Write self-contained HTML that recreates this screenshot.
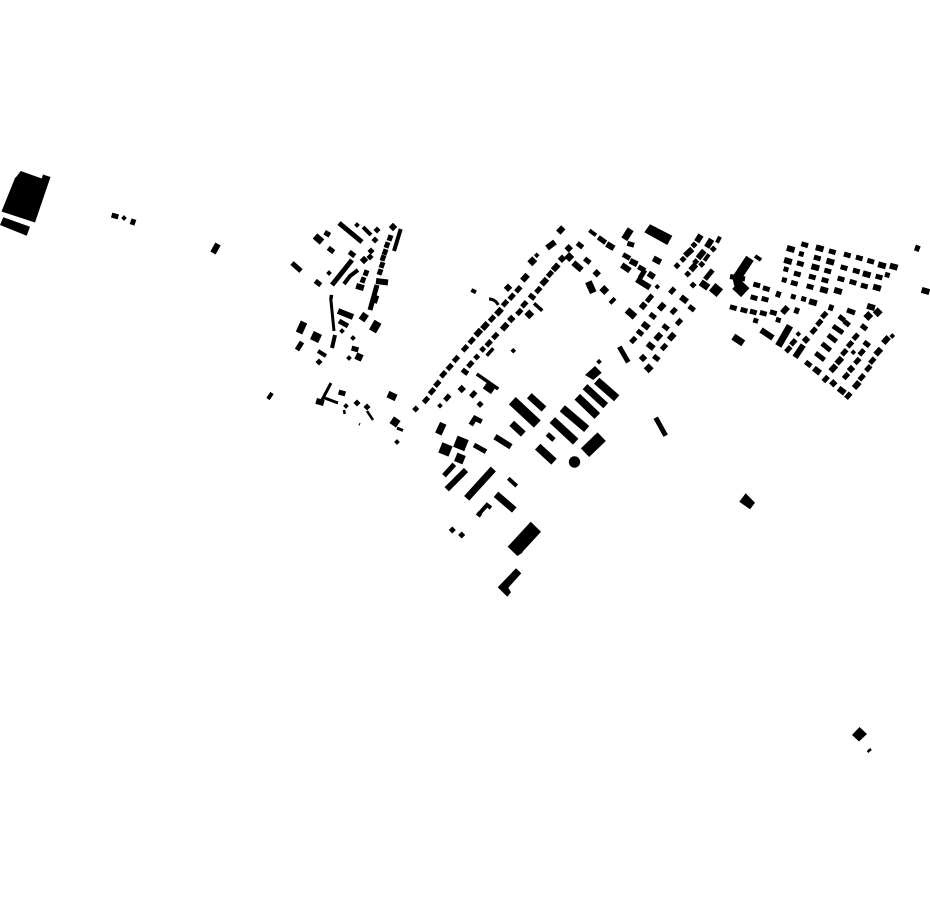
<!DOCTYPE html>
<html><head><meta charset="utf-8"><style>html,body{margin:0;padding:0;background:#fff;width:930px;height:924px;overflow:hidden}svg{display:block}path.l{fill:none;stroke:#000}</style></head><body>
<svg xmlns="http://www.w3.org/2000/svg" width="930" height="924" viewBox="0 0 930 924">
<defs>
<rect id="g" x="-3.5" y="-2.5" width="7" height="5" transform="rotate(16)"/>
<rect id="G" x="-4" y="-3" width="8" height="6" transform="rotate(16)"/>
<rect id="h" x="-2.5" y="-2.5" width="5" height="5" transform="rotate(16)"/>
<rect id="a" x="-2" y="-2" width="4" height="4" transform="rotate(45)"/>
<rect id="b" x="-2.5" y="-2.5" width="5" height="5" transform="rotate(45)"/>
<rect id="c" x="-3" y="-3" width="6" height="6" transform="rotate(45)"/>
<rect id="e" x="-3.5" y="-3.5" width="7" height="7" transform="rotate(45)"/>
<rect id="u" x="-3.5" y="-2.5" width="7" height="5" transform="rotate(-48)"/>
<rect id="U" x="-4" y="-3" width="8" height="6" transform="rotate(-48)"/>
<rect id="d" x="-3.5" y="-2.5" width="7" height="5" transform="rotate(38)"/>
<rect id="D" x="-4" y="-3" width="8" height="6" transform="rotate(38)"/>
<rect id="t" x="-3" y="-2.5" width="6" height="5" transform="rotate(-70)"/>
</defs>
<g fill="#000">
<polygon points="20.7,171 41.7,178.5 43,174.5 50.5,177 35,222.5 1.5,211.5 15,178 17,176"/>
<polygon points="3.3,217.3 30,226.7 26.7,235.7 0,225"/>
<polygon points="650,224.3 672.3,235.7 667.3,245 644.3,232.3"/>
<polygon points="530.7,521.7 541,531.7 523.3,551 522,553 517.3,556 507.7,546.7"/>
<polygon points="516,568.3 521.3,573.3 508.3,587.7 511,592.3 507.3,596.7 497.7,587.3"/>
<polygon points="585,375 595,366 601.7,372.7 593.3,380"/>
<polygon points="745.7,493.3 755,502.7 750,509.3 739.3,501.7"/>
<polygon points="859.5,727 867,734 859,741.5 852,735"/>
<circle cx="574.5" cy="462" r="5.7"/>
<rect x="440" y="444" width="11" height="11" transform="rotate(22 445.7 449.3)"/>
<rect x="455" y="437.5" width="12" height="12" transform="rotate(22 461 443.3)"/>
<rect x="455.5" y="454" width="9" height="9" transform="rotate(22 460 458.3)"/>
<rect x="311.5" y="332.5" width="9" height="9" transform="rotate(25 316 337)"/>
<rect x="484.5" y="383" width="10" height="9" transform="rotate(35 489.3 387.5)"/>
<rect x="355.5" y="353.5" width="7" height="7" transform="rotate(25 359 357)"/>
<rect x="387.5" y="392.5" width="9" height="7" transform="rotate(25 392 396)"/>
<rect x="391" y="418" width="8" height="8" transform="rotate(35 395 422)"/>
<rect x="711" y="285" width="10" height="10" transform="rotate(40 716 290)"/>
<use href="#g" x="115" y="216"/><use href="#a" x="124" y="218"/><use href="#t" x="133" y="222"/>
<use href="#a" x="357" y="225"/><use href="#b" x="377" y="230"/><use href="#b" x="375" y="240"/>
<use href="#d" x="331" y="250"/><use href="#d" x="352" y="254"/><use href="#a" x="329" y="273"/><use href="#d" x="318" y="283"/>
<use href="#c" x="364" y="260"/><use href="#b" x="370" y="257"/><use href="#b" x="371" y="251"/><use href="#c" x="393" y="227"/>
<use href="#t" x="390" y="238"/><use href="#t" x="387" y="245"/><use href="#t" x="385" y="252"/><use href="#t" x="383" y="258"/><use href="#t" x="382" y="265"/><use href="#t" x="380" y="272"/>
<use href="#t" x="366" y="273"/><use href="#t" x="363" y="280"/><use href="#G" x="360" y="287"/>
<use href="#a" x="342" y="331"/><use href="#a" x="353" y="338"/><use href="#g" x="355" y="349"/><use href="#a" x="349" y="358"/><use href="#b" x="319" y="362"/>
<use href="#G" x="320" y="402"/><use href="#g" x="342" y="393"/><use href="#a" x="346" y="406"/><use href="#b" x="357" y="403"/><use href="#b" x="367" y="407"/>
<use href="#a" x="397" y="442"/>
<use href="#b" x="415.7" y="409"/><use href="#u" x="426" y="400"/><use href="#u" x="432" y="391.3"/><use href="#u" x="437.3" y="383.7"/><use href="#u" x="443.3" y="374.3"/><use href="#u" x="449.7" y="367"/><use href="#u" x="456" y="359"/><use href="#u" x="465" y="348.3"/><use href="#u" x="471.7" y="340.7"/><use href="#U" x="478.3" y="332.7"/><use href="#U" x="485" y="326"/><use href="#u" x="492" y="318.7"/><use href="#U" x="499" y="311.7"/><use href="#u" x="505" y="303.3"/><use href="#u" x="511.7" y="296.7"/><use href="#u" x="518.3" y="289.3"/><use href="#U" x="525" y="277.7"/><use href="#e" x="532.3" y="261.3"/><use href="#a" x="536.7" y="255.3"/><use href="#c" x="508" y="287.7"/>
<use href="#a" x="440" y="405.7"/><use href="#u" x="447.3" y="397.7"/><use href="#c" x="461.7" y="389"/><use href="#u" x="473.3" y="394.3"/><use href="#a" x="480.7" y="404.3"/><use href="#d" x="465" y="371.7"/><use href="#u" x="470.3" y="364.3"/><use href="#b" x="476.7" y="357"/><use href="#b" x="482.7" y="349.3"/><use href="#u" x="488.7" y="343.3"/><use href="#u" x="495.3" y="336"/><use href="#U" x="504.7" y="326.7"/><use href="#c" x="511.3" y="319"/><use href="#u" x="519.3" y="312"/><use href="#u" x="524.3" y="304.3"/><use href="#e" x="529.3" y="314.3"/><use href="#d" x="532" y="296.7"/><use href="#u" x="538.3" y="290"/><use href="#U" x="544.3" y="281.7"/><use href="#u" x="550" y="274"/><use href="#U" x="555.7" y="267.3"/><use href="#c" x="562" y="258.7"/><use href="#e" x="569.3" y="257"/><use href="#c" x="568.7" y="248.3"/><use href="#d" x="580" y="245.3"/><use href="#d" x="587.3" y="260.7"/><use href="#c" x="596.7" y="273.3"/><use href="#e" x="604.3" y="290"/><use href="#a" x="513.3" y="350.7"/><use href="#a" x="599" y="361.7"/><use href="#b" x="480" y="404.3"/>
<use href="#g" x="630.7" y="244.3"/><use href="#a" x="657.3" y="286.7"/><use href="#u" x="672.3" y="290.7"/><use href="#U" x="661.7" y="306.7"/><use href="#d" x="652.7" y="316"/><use href="#u" x="673.7" y="311"/><use href="#D" x="645.7" y="325.7"/><use href="#d" x="665.7" y="327.3"/><use href="#u" x="679" y="322"/><use href="#d" x="640" y="332.7"/><use href="#U" x="658.3" y="336.7"/><use href="#U" x="671.7" y="336.7"/><use href="#u" x="633.3" y="340"/><use href="#D" x="650.7" y="346"/><use href="#u" x="664" y="347"/><use href="#c" x="643" y="358"/><use href="#d" x="656.3" y="358"/><use href="#e" x="648.7" y="368.3"/><use href="#D" x="684" y="299.3"/><use href="#d" x="691.7" y="308.3"/>
<use href="#b" x="677" y="265.7"/><use href="#b" x="683" y="259.3"/><use href="#b" x="694" y="245"/><use href="#b" x="687.7" y="274"/><use href="#U" x="693.3" y="267.3"/><use href="#b" x="695.7" y="261.7"/><use href="#b" x="701.7" y="264.3"/><use href="#b" x="713.3" y="249"/><use href="#b" x="693" y="285"/>
<use href="#G" x="790.7" y="249"/><use href="#g" x="804.7" y="244.7"/><use href="#h" x="801.3" y="254"/><use href="#G" x="819.7" y="248.3"/><use href="#g" x="832.3" y="251.7"/><use href="#g" x="847.3" y="255"/><use href="#g" x="859.3" y="258"/><use href="#g" x="870.7" y="261.3"/><use href="#G" x="882" y="265.3"/><use href="#G" x="893.7" y="266.7"/>
<use href="#G" x="788" y="261"/><use href="#g" x="800.3" y="263.7"/><use href="#g" x="817.3" y="258"/><use href="#G" x="830.3" y="261.7"/><use href="#g" x="844" y="267.7"/><use href="#g" x="856.3" y="271"/><use href="#G" x="866.7" y="274.3"/><use href="#g" x="879" y="277"/><use href="#h" x="887.3" y="275"/>
<use href="#h" x="786" y="269.3"/><use href="#g" x="797.3" y="274"/><use href="#G" x="815.3" y="267.3"/><use href="#g" x="827.7" y="271"/><use href="#g" x="841" y="279"/><use href="#g" x="853" y="282.3"/><use href="#g" x="864.3" y="286"/><use href="#G" x="877" y="287.7"/>
<use href="#h" x="784.3" y="280"/><use href="#g" x="794.3" y="283.3"/><use href="#g" x="812.3" y="277"/><use href="#g" x="825" y="280.3"/><use href="#g" x="810" y="286.7"/><use href="#G" x="824" y="290"/><use href="#G" x="838" y="291"/>
<use href="#g" x="756.7" y="285"/><use href="#g" x="766.3" y="288.7"/><use href="#t" x="778.3" y="294.3"/><use href="#h" x="793.3" y="296.7"/><use href="#h" x="803.7" y="299"/><use href="#G" x="813" y="302.3"/>
<use href="#g" x="754" y="297.7"/><use href="#g" x="765" y="299.3"/><use href="#g" x="733.3" y="307.7"/><use href="#g" x="744" y="310.3"/><use href="#g" x="753.3" y="312"/><use href="#g" x="763.3" y="313.3"/><use href="#g" x="773.3" y="312.7"/><use href="#U" x="785" y="310"/><use href="#t" x="796.7" y="310.7"/><use href="#h" x="755.7" y="320.7"/><use href="#h" x="778.3" y="320"/>
<use href="#a" x="798.3" y="334"/><use href="#u" x="793.3" y="342.3"/><use href="#u" x="788.3" y="349.3"/><use href="#c" x="806" y="339.7"/>
<use href="#t" x="831" y="307.7"/><use href="#u" x="824.3" y="315"/><use href="#u" x="819.3" y="322.7"/><use href="#u" x="813.7" y="330.7"/>
<use href="#d" x="841.7" y="318.3"/><use href="#d" x="846.7" y="323.3"/><use href="#d" x="808.3" y="364"/><use href="#D" x="817" y="370.7"/><use href="#u" x="825.7" y="379"/><use href="#c" x="833.3" y="383.3"/><use href="#D" x="841.7" y="390.7"/><use href="#u" x="848.3" y="395.7"/>
<use href="#d" x="864" y="327.3"/><use href="#u" x="855.7" y="336.7"/><use href="#u" x="850" y="344.3"/><use href="#u" x="844.3" y="352.3"/><use href="#U" x="839.3" y="360.7"/><use href="#U" x="833.3" y="368.3"/><use href="#d" x="866.7" y="344"/><use href="#u" x="861.7" y="352.3"/><use href="#a" x="853.3" y="352.3"/><use href="#u" x="857.3" y="361"/><use href="#U" x="878.3" y="351.7"/><use href="#u" x="872.3" y="360.7"/><use href="#u" x="868.3" y="368.3"/><use href="#u" x="861.7" y="377.3"/><use href="#U" x="856.7" y="385"/><use href="#c" x="851" y="369"/><use href="#u" x="846" y="376"/>
<use href="#G" x="871" y="307"/><use href="#e" x="877.7" y="312.3"/><use href="#e" x="868.3" y="316"/><use href="#U" x="886" y="340"/><use href="#a" x="892.3" y="336"/>
<use href="#t" x="917.3" y="248.3"/><use href="#G" x="925.5" y="291"/>
<use href="#b" x="452.3" y="530"/><use href="#b" x="461.7" y="535"/>
<rect x="360" y="314" width="7" height="8" transform="rotate(35 365 318)"/>
<rect x="371" y="321" width="8" height="11" transform="rotate(30 375 327)"/>
</g>
<g>
<path class="l" stroke-width="2.5" d="M867.5 752L871 749M344 410L344.700 414M367 411L373 420M359 424L360 424.500"/>
<path class="l" stroke-width="3" d="M330.700 298L334 331M331 383L322 400M322 397L338 403M489 299Q495 299 498.300 305M397 428L403 430.500"/>
<path class="l" stroke-width="3.500" d="M486.700 355.700L493.300 348.300M534 303.300L542.300 310.700M476.700 374L498.300 389"/>
<path class="l" stroke-width="4" d="M363 227L371 235M400.700 229L394 251M344 284L350 276L358 270M272 393L268 399M335 335L332 348M318 351L326 356M471.300 290L476 292.300M589.300 230.300L596 235.300M610 303.300L615 298.300M704.300 260.700L709 254.300M717 242.700L720 236.700M508.300 478.300L516.700 486M478 515L487 505L491 508M477 513L481 516M755 256L761 260M329.500 296.700L333 297"/>
<path class="l" stroke-width="5" d="M339 223L362 242M292 263L301 271M332 285L352 260M377 285L370 310M339 321L348 326M598.300 237.300L605.700 242.700M623 254.500L630 258.500M638.300 266.700L645 270.700M645 270L640 278M652.300 295L646.700 301.700M619.300 346.700L628.300 362.300M705 279.300L712.700 270M655.700 417.700L665.700 435.700M444 475.700L454.300 464.300M474 445L486 451.700M470.700 425L475 418.300L481.700 421.700M547.300 434L554 440M847 310L855 313M730 276.500L745 279M302 342L297 350M833 326L843 333M828 335L836.500 341.500M822 343.500L830.500 350.500M815.500 353L824.500 360"/>
<path class="l" stroke-width="6" d="M218 244L213 253M376 281L388 282.500M328.500 231.500L326 236M338 311L353 317M547 248L555 242M558.300 232.700L563.300 227.300M573.300 262.700L581.700 270M606.700 244L614 248.300M630 260.700L637.300 264.300M621.700 265L630 270.700M653.300 258.300L660.700 262.300M636.700 279.300L650 287.700M648.300 273.300L654.300 277.300M641 308.300L645.300 303.300M685 255.700L692.300 249M696.700 241.700L701 235M698 258.300L704.300 250.700M706.700 247.300L711.700 239.300M803.300 345L795 357.300M495 436.700L511 446.700M446.700 489.300L466 470M761 330L773 338"/>
<path class="l" stroke-width="7" d="M315 236L322 242M304 322L299 333M588.300 281.700L593.300 292.700M630.700 229.300L624.300 239.300M627 310L635 317M700.700 282.300L708.300 287.700M733.300 336.700L743.300 343.300M790 325.700L778.300 346M466.700 498.300L493.300 469M496 494.300L514.300 510M511.700 423.300L523.300 434M529.300 395.700L544 409M585 386.700L605.700 405.700M443.300 423.300L438.300 434"/>
<path class="l" stroke-width="8" d="M537.700 446.700L554 461.700M552.300 420L575.700 441.700M562.300 408.300L586.700 429M577.300 396.700L597.300 416M372 298L378 300M596.700 380.700L616.700 398.300"/>
<path class="l" stroke-width="9" d="M750 258.300L736.700 278.300M737 278L740 290"/>
<path class="l" stroke-width="10" d="M512.300 400.700L537.300 424"/>
<path class="l" stroke-width="12" d="M745 284L736.700 293M601.700 436.700L585 452.700"/>
</g>
</svg>
</body></html>
